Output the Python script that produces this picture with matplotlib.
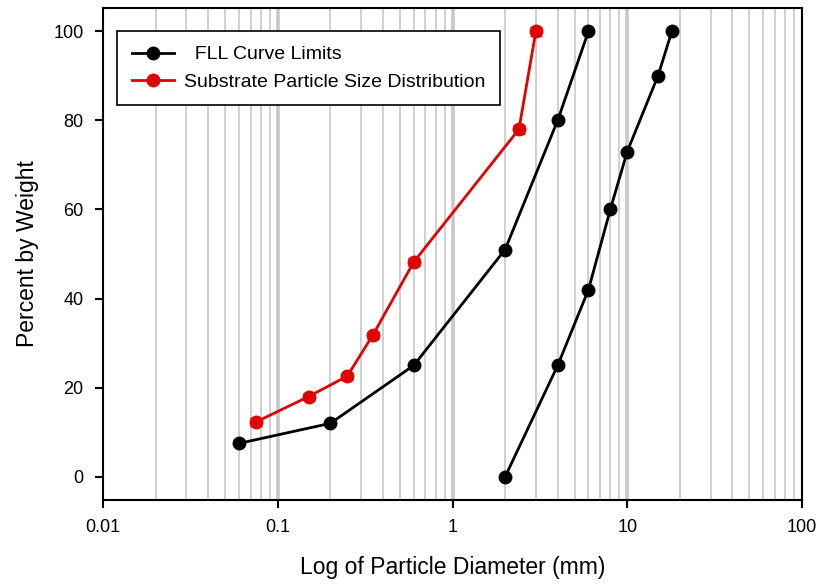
import matplotlib
matplotlib.use("Agg")
import matplotlib.pyplot as plt
from matplotlib.lines import Line2D
from matplotlib.ticker import LogLocator, NullFormatter, FixedLocator

plt.rcParams['font.family'] = ['Liberation Sans', 'DejaVu Sans']

# FLL curve limits (two boundary curves)
fll_fine_x = [0.06, 0.2, 0.6, 2, 4, 6]
fll_fine_y = [7.5, 12, 25, 51, 80, 100]
fll_coarse_x = [2, 4, 6, 8, 10, 15, 18]
fll_coarse_y = [0, 25, 42, 60, 73, 90, 100]

# substrate particle size distribution
sub_x = [0.075, 0.15, 0.25, 0.35, 0.6, 2.4, 3]
sub_y = [12.3, 18, 22.6, 31.8, 48.2, 78, 100]
sub_err = [0.8, 0.8, 0.8, 0.8, 0.8, 1.0, 1.0]

x_ticks = [0.01, 0.1, 1, 10, 100]
x_labels = ['0.01', '0.1', '1', '10', '100']
y_ticks = [0, 20, 40, 60, 80, 100]

fig = plt.figure(figsize=(8.18, 5.84), dpi=100)
ax = fig.add_axes([103 / 818, 84 / 584, 699 / 818, 492 / 584])

ax.set_xscale('log')
ax.set_xlim(0.01, 100)
ax.set_ylim(-5.2, 105.2)

# vertical grid lines, major ones drawn heavier
minor_pos = [m * 10.0 ** e for e in range(-2, 2) for m in range(2, 10)]
for p in minor_pos:
    ax.axvline(p, color='#c8c8c8', lw=1.2, zorder=0)
for p in [0.1, 1, 10]:
    ax.axvline(p, color='#c8c8c8', lw=2.6, zorder=0)

ax.plot(fll_fine_x, fll_fine_y, '-o', color='black', lw=2, ms=9, zorder=3)
ax.plot(fll_coarse_x, fll_coarse_y, '-o', color='black', lw=2, ms=9, zorder=3)
ax.errorbar(sub_x, sub_y, yerr=sub_err, fmt='-o', color='#e00000', lw=2, ms=9,
            capsize=4, elinewidth=1.5, zorder=4)

handles = [
    Line2D([], [], color='black', lw=2, marker='o', ms=9),
    Line2D([], [], color='#e00000', lw=2, marker='o', ms=9),
]
labels = ['  FLL Curve Limits', 'Substrate Particle Size Distribution']

ax.xaxis.set_major_locator(FixedLocator(x_ticks))
ax.set_xticklabels(x_labels)
ax.xaxis.set_minor_locator(LogLocator(base=10, subs=[]))
ax.xaxis.set_minor_formatter(NullFormatter())
ax.set_yticks(y_ticks)

ax.tick_params(direction='out', length=6, width=1.5, labelsize=13, pad=8)
ax.tick_params(axis='x', which='minor', length=0)
for s in ax.spines.values():
    s.set_linewidth(1.5)

ax.set_xlabel('Log of Particle Diameter (mm)', fontsize=16.5, labelpad=14)
ax.set_ylabel('Percent by Weight', fontsize=16.5, labelpad=10)

leg = ax.legend(handles, labels, loc='upper left', bbox_to_anchor=(0.02, 0.953),
                borderaxespad=0, fontsize=14, frameon=True, fancybox=False,
                edgecolor='black', framealpha=1, borderpad=0.75,
                handlelength=2.2, handletextpad=0.5, labelspacing=0.5)
leg.get_frame().set_linewidth(1.2)

fig.savefig('out.png', dpi=100)
